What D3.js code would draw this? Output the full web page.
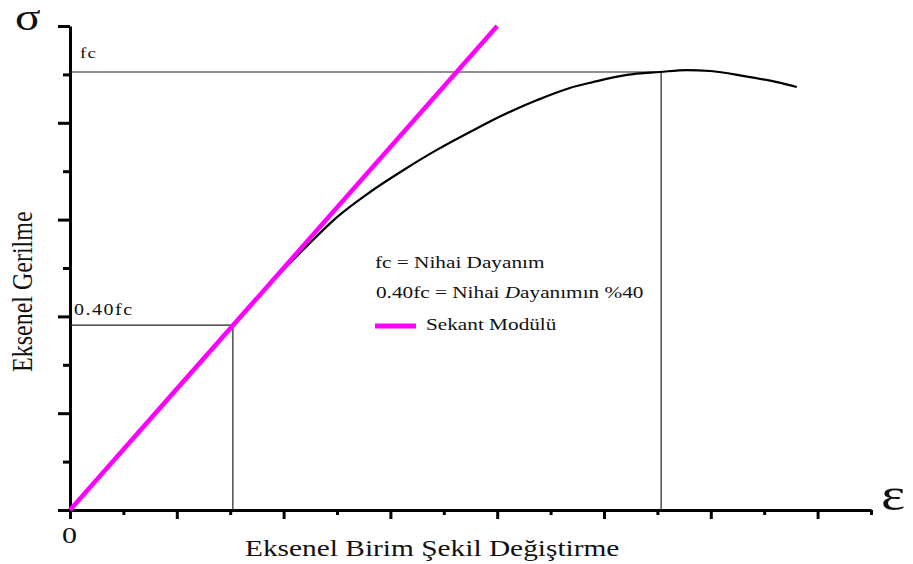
<!DOCTYPE html>
<html>
<head>
<meta charset="utf-8">
<script src="https://cdn.jsdelivr.net/npm/d3@7.9.0/dist/d3.min.js"></script>
<style>
  html, body { margin: 0; padding: 0; background: #fff; }
  svg { display: block; }
  text { font-family: "Liberation Serif", "Times New Roman", serif; fill: #111; }
</style>
</head>
<body>
<div id="chart"></div>
<script>
// ------------------- Data -------------------
// stress-strain curve, in axis units (x: strain ticks, y: stress ticks)
const curveStrain = [0, 3.05, 4.03, 4.36, 4.68, 5.00, 5.62, 6.24, 6.87, 7.49, 8.11, 8.75, 9.36, 9.79, 10.43, 11.05, 11.55, 11.99, 12.60, 13.24, 13.61];
const curveStress = [0, 3.82, 5.00, 5.37, 5.72, 6.05, 6.57, 7.02, 7.44, 7.81, 8.16, 8.47, 8.72, 8.84, 8.99, 9.05, 9.09, 9.07, 8.97, 8.84, 8.74];

const secantStrain = [0, 8];
const secantStress = [0, 10];

const fcStress = 9.05, fcStrain = 11.07;
const fc40Stress = 3.82, fc40Strain = 3.05;

const xTicks = d3.range(0, 16);
const yTicks = d3.range(0, 11);

const legendLines = ['fc = Nihai Dayanım', '0.40fc = Nihai Dayanımın %40'];
const legendKey = 'Sekant Modülü';
const xTitle = 'Eksenel Birim Şekil Değiştirme';
const yTitle = 'Eksenel Gerilme';

// ------------------- Setup -------------------
const width = 913, height = 564;
const stretch = 1.25; // text in the original is drawn wide

const svg = d3.select('#chart').append('svg')
  .attr('width', width)
  .attr('height', height);

const x = d3.scaleLinear().domain([0, 15]).range([70, 871]);
const y = d3.scaleLinear().domain([0, 10]).range([510, 26]);

// ------------------- Axes -------------------
function styleAxis(g) {
  g.selectAll('path, line').attr('stroke', '#000').attr('stroke-width', 3);
  g.selectAll('text').remove();
}

svg.append('g')
  .attr('transform', `translate(0,${y(0)})`)
  .call(d3.axisBottom(x).tickValues(xTicks.filter(d => d % 2 === 0)).tickSize(9).tickSizeOuter(0))
  .call(styleAxis);
svg.append('g')
  .attr('transform', `translate(0,${y(0)})`)
  .call(d3.axisBottom(x).tickValues(xTicks.filter(d => d % 2 === 1)).tickSize(5))
  .call(g => g.select('.domain').remove())
  .call(styleAxis);

svg.append('g')
  .attr('transform', `translate(${x(0)},0)`)
  .call(d3.axisLeft(y).tickValues(yTicks.filter(d => d % 2 === 0)).tickSize(12).tickSizeOuter(0))
  .call(styleAxis);
svg.append('g')
  .attr('transform', `translate(${x(0)},0)`)
  .call(d3.axisLeft(y).tickValues(yTicks.filter(d => d % 2 === 1)).tickSize(7))
  .call(g => g.select('.domain').remove())
  .call(styleAxis);

// ------------------- Guide lines -------------------
const guides = svg.append('g').attr('stroke', '#222').attr('stroke-width', 1.2).attr('fill', 'none');
guides.append('path')
  .attr('d', `M${x(0)},${y(fcStress)}H${x(fcStrain)}V${y(0)}`);
guides.append('path')
  .attr('d', `M${x(0)},${y(fc40Stress)}H${x(fc40Strain)}V${y(0)}`);

// ------------------- Curves -------------------
const curveData = curveStrain.map((s, i) => ({ s, t: curveStress[i] }));
const line = d3.line().x(d => x(d.s)).y(d => y(d.t)).curve(d3.curveMonotoneX);

svg.append('path')
  .datum(curveData)
  .attr('d', line)
  .attr('fill', 'none')
  .attr('stroke', '#000')
  .attr('stroke-width', 2.2);

const secantData = secantStrain.map((s, i) => ({ s, t: secantStress[i] }));
svg.append('path')
  .datum(secantData)
  .attr('d', d3.line().x(d => x(d.s)).y(d => y(d.t)))
  .attr('fill', 'none')
  .attr('stroke', '#ff00ff')
  .attr('stroke-width', 4.5);

// ------------------- Labels -------------------
function label(txt, px, py, size, extra) {
  const t = svg.append('text')
    .attr('transform', `translate(${px},${py}) scale(${stretch},1)`)
    .attr('font-size', size)
    .text(txt);
  if (extra) extra(t);
  return t;
}

label('σ', 15, 30, 38);
label('ε', 881, 510, 46);
label('0', 62, 543, 24);
label('fc', 80, 58, 15, t => t.attr('letter-spacing', 1));
label('0.40fc', 74, 315, 16, t => t.attr('letter-spacing', 1.2));

label(xTitle, 245, 556, 23.5);

svg.append('text')
  .attr('transform', `translate(32,${372}) rotate(-90) scale(1,${stretch})`)
  .attr('font-size', 24)
  .text(yTitle);

// legend
label(legendLines[0], 375, 268, 17);
const l2 = label('', 376, 298, 17);
l2.append('tspan').text('0.40fc = Nihai ');
l2.append('tspan').attr('font-style', 'italic').text('D');
l2.append('tspan').text('ayanımın %40');

svg.append('line')
  .attr('x1', 375).attr('x2', 416)
  .attr('y1', 326).attr('y2', 326)
  .attr('stroke', '#ff00ff')
  .attr('stroke-width', 5);
label(legendKey, 426, 330, 17);
</script>
</body>
</html>
